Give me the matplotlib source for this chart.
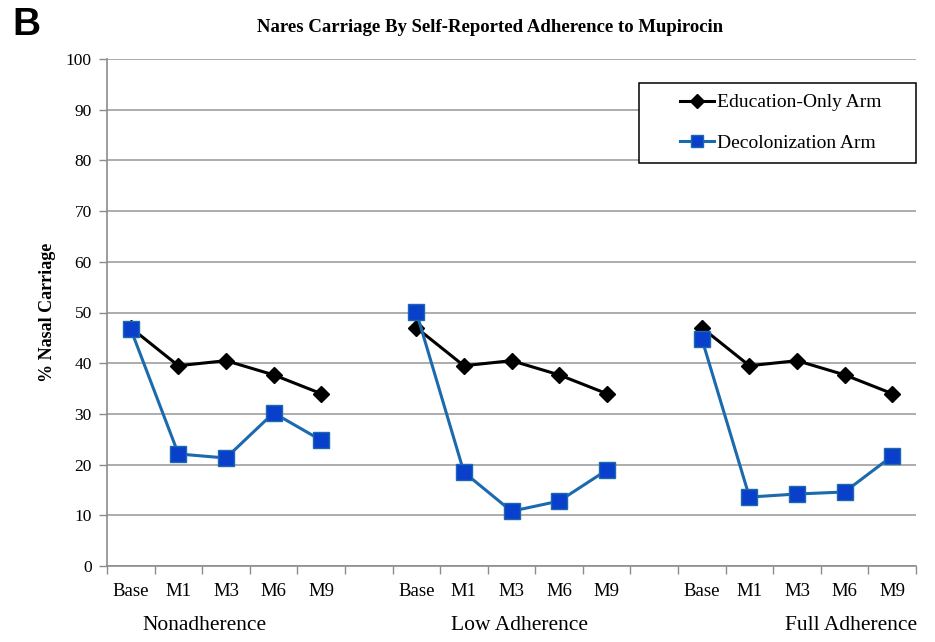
import matplotlib
matplotlib.use("Agg")
import matplotlib.pyplot as plt
import matplotlib.transforms as mtransforms
from matplotlib.patches import Rectangle
import numpy as np

visits = ["Base", "M1", "M3", "M6", "M9"]
groups = ["Nonadherence", "Low Adherence", "Full Adherence"]

education_only = {
    "Nonadherence":   [47.0, 39.5, 40.5, 37.7, 34.0],
    "Low Adherence":  [47.0, 39.5, 40.5, 37.7, 34.0],
    "Full Adherence": [47.0, 39.5, 40.5, 37.7, 34.0],
}
decolonization = {
    "Nonadherence":   [46.7, 22.1, 21.3, 30.2, 24.8],
    "Low Adherence":  [50.1, 18.5, 10.8, 12.8, 18.9],
    "Full Adherence": [44.8, 13.6, 14.2, 14.6, 21.7],
}
yticks = list(range(0, 101, 10))

serif = ["Liberation Serif", "DejaVu Serif"]

fig = plt.figure(figsize=(9.35, 6.42), dpi=100)
ax = fig.add_axes([107/935, 1-566/642, (916-107)/935, (566-59)/642])

n_per = len(visits)
positions = []
for gi, g in enumerate(groups):
    xs = np.arange(n_per) + gi * (n_per + 1)
    positions.append(xs)
    l1, = ax.plot(xs, education_only[g], color="black", lw=2.2, marker="D",
                  ms=8, mfc="black", mec="black", zorder=3)
    l2, = ax.plot(xs, decolonization[g], color="#1a6aad", lw=2.2, marker="s",
                  ms=11, mfc="#0a3fcc", mec="#1a6aad", mew=1, zorder=4)

ntot = len(groups) * n_per + len(groups) - 1
ax.set_xlim(-0.5, ntot - 0.5)
ax.set_ylim(0, 100)
ax.set_yticks(yticks)
ax.set_yticklabels([str(t) for t in yticks], fontfamily=serif, fontsize=12.5)
ax.yaxis.grid(True, color="#a6a6a6", lw=1.3)
ax.set_axisbelow(True)

allx = np.concatenate(positions)
ax.set_xticks(allx)
ax.set_xticklabels(visits * len(groups), fontfamily=serif, fontsize=13.5)
ax.set_xticks(np.arange(-0.5, ntot, 1.0), minor=True)
ax.tick_params(axis="x", which="major", length=0, pad=12)
ax.tick_params(axis="x", which="minor", length=6, color="#8c8c8c", width=1)
ax.tick_params(axis="y", length=6, color="#8c8c8c", width=1, pad=5)

for s in ["top", "right"]:
    ax.spines[s].set_visible(False)
for s in ["left", "bottom"]:
    ax.spines[s].set_color("#8c8c8c")
    ax.spines[s].set_linewidth(1.2)

trans = mtransforms.blended_transform_factory(ax.transData, fig.transFigure)
group_x = [1.54, 8.16, 15.13]
for gx, g in zip(group_x, groups):
    ax.text(gx, 1-625/642, g, transform=trans, ha="center", va="center",
            fontfamily=serif, fontsize=15.5)

ax.set_ylabel("% Nasal Carriage", fontfamily=serif, fontweight="bold",
              fontsize=13, labelpad=7)

# legend frame
x0, x1 = (639-107)/809, 1.0
y0, y1 = (566-163)/507, (566-83)/507
ax.add_patch(Rectangle((x0, y0), x1-x0, y1-y0, transform=ax.transAxes,
                       facecolor="white", edgecolor="black", lw=1.1, zorder=5,
                       clip_on=False))
leg = ax.legend([l1, l2], ["Education-Only Arm", "Decolonization Arm"],
                loc="center", bbox_to_anchor=((x0+x1)/2 + 0.004, (y0+y1)/2),
                frameon=False, prop={"family": serif, "size": 14},
                handlelength=1.75, labelspacing=1.2, handletextpad=0.15,
                borderpad=0)
leg.set_zorder(6)
for h in leg.legend_handles:
    h.set_markersize(h.get_markersize() * 0.85)

fig.text(490/935, 1-28/642, "Nares Carriage By Self-Reported Adherence to Mupirocin",
         ha="center", va="center", fontfamily=serif, fontweight="bold", fontsize=13.5)
fig.text(12/935, 1-25/642, "B", ha="left", va="center",
         fontfamily=["Liberation Sans", "DejaVu Sans"], fontweight="bold", fontsize=28)

fig.savefig("out.png", dpi=100)
